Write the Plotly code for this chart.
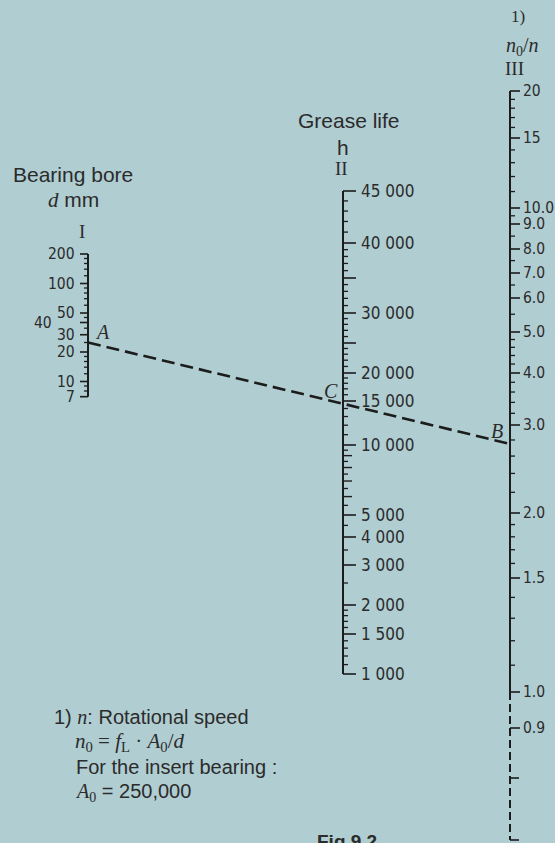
import subprocess
import numpy as np
import plotly.graph_objects as go

# ---------------- data ----------------
# Scale I : bearing bore d (mm)
d_labels = [200, 100, 50, 40, 30, 20, 10, 7]
d_minor = [180, 160, 140, 120, 90, 80, 70, 60, 45, 35, 25, 18, 16, 14, 12, 9, 8]

# Scale II : grease life h
h_labels = [45000, 40000, 30000, 20000, 15000, 10000, 5000, 4000, 3000, 2000, 1500, 1000]
h_label_text = ["45 000", "40 000", "30 000", "20 000", "15 000", "10 000",
                "5 000", "4 000", "3 000", "2 000", "1 500", "1 000"]
h_major = [35000, 25000]
h_medium = [9000, 8000, 7000, 6000]
h_minor = [44000, 43000, 42000, 41000, 39000, 38000, 37000, 36000, 34000, 33000,
           32000, 31000, 29000, 28000, 27000, 26000, 24000, 23000, 22000, 21000,
           19000, 18000, 17000, 16000, 14000, 13000, 12000, 11000, 9500, 8500,
           7500, 6500, 5500, 4500, 3500, 2500, 1900, 1800, 1700, 1600, 1400,
           1300, 1200, 1100]

# Scale III : n0/n
r_labels = [20, 15, 10.0, 9.0, 8.0, 7.0, 6.0, 5.0, 4.0, 3.0, 2.0, 1.5, 1.0, 0.9]
r_label_text = ["20", "15", "10.0", "9.0", "8.0", "7.0", "6.0", "5.0", "4.0",
                "3.0", "2.0", "1.5", "1.0", "0.9"]
r_minor = [19, 18, 17, 16, 14, 13, 12, 11, 9.5, 8.5, 7.5, 6.5, 5.5, 4.8, 4.6,
           4.4, 4.2, 3.8, 3.6, 3.4, 3.2, 2.8, 2.6, 2.4, 2.2, 1.9, 1.8, 1.7,
           1.6, 1.4, 1.3, 1.2, 1.1]
r_ext_ticks = [0.8, 0.7]

# Example reading (points A and B; C follows from the line)
A_d = 25
B_ratio = 2.75

# ---------------- nomogram scales (value -> vertical position) ----------------
W, H = 555, 843
XI, XII, XIII = 88, 343, 510


def yI(v):
    return 254 + 98 * np.log10(200 / np.asarray(v, dtype=float))


II_cal_v = [1000, 1500, 2000, 3000, 4000, 5000, 10000, 15000, 20000, 25000,
            30000, 35000, 40000, 45000]
II_cal_y = [674, 634, 605, 565, 537, 515, 445, 401, 373, 343, 313, 278, 243, 191]


def yII(v):
    return np.interp(np.log10(np.asarray(v, dtype=float)), np.log10(II_cal_v), II_cal_y)


III_cal_v = [0.7, 0.8, 0.9, 1.0, 1.5, 2.0, 3.0, 4.0, 5.0, 6.0, 7.0, 8.0, 9.0, 10.0, 15, 20]
III_cal_y = [840, 778, 728, 692, 578, 513, 425, 373, 332, 298, 273, 249, 224, 208, 138, 91]


def yIII(v):
    return np.interp(np.log10(np.asarray(v, dtype=float)), np.log10(III_cal_v), III_cal_y)


# ---------------- fonts ----------------
def font_families():
    try:
        out = subprocess.run(["fc-list", ":", "family"], capture_output=True,
                             text=True, timeout=20).stdout
        return out.lower()
    except Exception:
        return ""


_fams = font_families()
if "liberation sans narrow" in _fams:
    NARROW, TS_I, TS_II, TS_III = "Liberation Sans Narrow", 19, 20, 19
elif "dejavu sans condensed" in _fams:
    NARROW, TS_I, TS_II, TS_III = "DejaVu Sans Condensed", 15.5, 17, 15.5
else:
    NARROW, TS_I, TS_II, TS_III = "Liberation Sans", 15.5, 16.5, 15.5

INK = "#1c1c1c"
TXT = "#2b2b2b"
BG = "#B0CDD2"
SANS = "Liberation Sans, Arial, Helvetica, sans-serif"
SERIF = "Liberation Serif, Times New Roman, DejaVu Serif, serif"


def segs(x0, length, ys):
    xs, yy = [], []
    for y in np.atleast_1d(ys):
        xs += [x0, x0 + length, None]
        yy += [float(y), float(y), None]
    return xs, yy


fig = go.Figure()


def add_line(xs, ys, width, dash="solid"):
    fig.add_trace(go.Scatter(x=xs, y=ys, mode="lines",
                             line=dict(color=INK, width=width, dash=dash),
                             hoverinfo="skip", showlegend=False))


# --- Scale I ---
add_line([XI, XI], [yI(max(d_labels)), yI(min(d_labels))], 2)
add_line(*segs(XI, -8, yI(d_labels)), 1.6)
add_line(*segs(XI, -4, yI(d_minor)), 1.3)

# --- Scale II ---
add_line([XII, XII], [yII(max(h_labels)), yII(min(h_labels))], 2)
add_line(*segs(XII, 13, yII(h_labels)), 1.6)
add_line(*segs(XII, 13, yII(h_major)), 1.6)
add_line(*segs(XII, 9, yII(h_medium)), 1.4)
add_line(*segs(XII, 5, yII(h_minor)), 1.3)

# --- Scale III ---
add_line([XIII, XIII], [yIII(max(r_labels)), yIII(1.0)], 2)
add_line([XIII, XIII], [yIII(1.0), yIII(min(r_ext_ticks))], 2, dash="8px,4px")
add_line(*segs(XIII, 10, yIII(r_labels)), 1.6)
add_line(*segs(XIII, 9, yIII(r_ext_ticks)), 1.6)
add_line(*segs(XIII, 5, yIII(r_minor)), 1.3)

# --- reading line A - C - B ---
yA = float(yI(A_d))
yB = float(yIII(B_ratio))
yC = yA + (XII - XI) / (XIII - XI) * (yB - yA)
fig.add_trace(go.Scatter(x=[XI, XIII], y=[yA, yB], mode="lines",
                         line=dict(color=INK, width=2.6, dash="13px,6px"),
                         hoverinfo="skip", showlegend=False))

ann = []


def text(x, y, t, size, family=SANS, xanchor="center", yanchor="middle", color=TXT):
    ann.append(dict(x=x, y=y, xref="x", yref="y", text=t, showarrow=False,
                    xanchor=xanchor, yanchor=yanchor,
                    font=dict(size=size, family=family, color=color)))


# tick labels
for v in d_labels:
    xr = 54 if v == 40 else 77
    text(xr, float(yI(v)), str(v), TS_I, NARROW, xanchor="right")
for v, t in zip(h_labels, h_label_text):
    text(XII + 16, float(yII(v)), t, TS_II, NARROW, xanchor="left")
for v, t in zip(r_labels, r_label_text):
    text(XIII + 11, float(yIII(v)), t, TS_III, NARROW, xanchor="left")

# point letters
text(93, yA - 11, "<i>A</i>", 20, SERIF, xanchor="left")
text(XII - 3, yC - 13, "<i>C</i>", 20, SERIF, xanchor="right")
text(XIII - 5, yB - 13, "<i>B</i>", 20, SERIF, xanchor="right")

# scale titles
text(73, 174, "Bearing bore", 21)
text(73, 200, "<span style='font-family:Liberation Serif'><i>d</i></span> mm", 21)
text(82, 231, "I", 19, SERIF)
text(349, 120, "Grease life", 21)
text(343, 147, "h", 21)
text(341, 168, "II", 19, SERIF)
text(518, 16, "1)", 17, SERIF)
text(522, 46, "<i>n</i><sub>0</sub>/<i>n</i>", 20, SERIF)
text(514, 68, "III", 19, SERIF)

# footnote
SER = "<span style='font-family:Liberation Serif'>"
text(52, 717, "1) " + SER + "<i>n</i></span>: Rotational speed", 20, xanchor="left")
text(73, 742, "<i>n</i><sub>0</sub> = <i>f</i><sub>L</sub> · <i>A</i><sub>0</sub>/<i>d</i>",
     21, SERIF, xanchor="left")
text(74, 767, "For the insert bearing :", 20, xanchor="left")
text(73, 792, SER + "<i>A</i><sub>0</sub></span> = 250,000", 20, xanchor="left")

text(315, 829, "<b>Fig.9.2</b>", 19, xanchor="left", yanchor="top")

fig.update_layout(
    width=W, height=H, margin=dict(l=0, r=0, t=0, b=0),
    paper_bgcolor=BG, plot_bgcolor=BG, showlegend=False,
    xaxis=dict(range=[0, W], visible=False, fixedrange=True),
    yaxis=dict(range=[H, 0], visible=False, fixedrange=True),
    annotations=ann,
)

fig.write_html("out.html", config={"displayModeBar": False, "staticPlot": True},
               post_script="document.body.style.margin='0px';")
